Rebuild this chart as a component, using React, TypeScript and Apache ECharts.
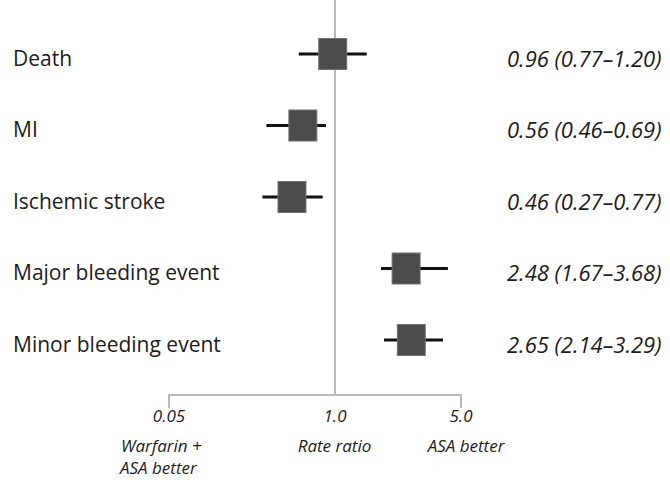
import React, { useEffect, useRef } from "react";
import * as echarts from "echarts";

const categories = ["Death", "MI", "Ischemic stroke", "Major bleeding event", "Minor bleeding event"];
const estimates = [0.96, 0.56, 0.46, 2.48, 2.65];
const lowerCI = [0.77, 0.46, 0.27, 1.67, 2.14];
const upperCI = [1.2, 0.69, 0.77, 3.68, 3.29];
// whisker ends as drawn in the (schematic) picture
const drawnLow = [0.52, 0.29, 0.27, 1.8, 1.87];
const drawnHigh = [1.5, 0.85, 0.8, 4.23, 3.97];
const axisTicks = [0.05, 1.0, 5.0];
const axisTickLabels = ["0.05", "1.0", "5.0"];
const captionLeft = ["Warfarin +", "ASA better"];
const captionMid = "Rate ratio";
const captionRight = "ASA better";

const FONT = '"Open Sans", sans-serif';
const TEXT = "#1c1c1c";
const GRAY = "#b9b9b9";

const ciText = estimates.map(
  (e, i) => `${e.toFixed(2)} (${lowerCI[i].toFixed(2)}–${upperCI[i].toFixed(2)})`
);

export default function App() {
  const ref = useRef<HTMLDivElement>(null);
  useEffect(() => {
    if (!ref.current) return;
    const chart = echarts.init(ref.current, null, { renderer: "svg" });
    const rowIdx = categories.map((_, i) => i);
    const yMin = -54 / 71.5;
    const yMax = 4 + (395 - 340) / 71.5;
    const panels = [
      [axisTicks[0], axisTicks[1]],
      [axisTicks[1], axisTicks[2]],
    ];
    const tickFmt = (v: number) => {
      const k = axisTicks.findIndex((t) => Math.abs(t - v) < 1e-6);
      return k >= 0 ? axisTickLabels[k] : "";
    };
    const series: any[] = [];
    panels.forEach(([pmin, pmax], p) => {
      const whiskers: number[][] = [];
      const squares: number[][] = [];
      rowIdx.forEach((i) => {
        const lo = Math.max(drawnLow[i], pmin);
        const hi = Math.min(drawnHigh[i], pmax);
        if (lo < hi) whiskers.push([lo, hi, i]);
        const e = estimates[i];
        if ((p === 0 && e < pmax) || (p === 1 && e >= pmin)) squares.push([e, i]);
      });
      series.push({
        type: "custom",
        xAxisIndex: p,
        yAxisIndex: p === 0 ? 0 : 1,
        data: whiskers,
        encode: { x: [0, 1], y: 2 },
        clip: false,
        z: 3,
        renderItem: (params: any, api: any) => {
          const a = api.coord([api.value(0), api.value(2)]);
          const b = api.coord([api.value(1), api.value(2)]);
          return {
            type: "line",
            shape: { x1: a[0], y1: a[1], x2: b[0], y2: b[1] },
            style: { stroke: "#111111", lineWidth: 3 },
          };
        },
      });
      series.push({
        type: "scatter",
        xAxisIndex: p,
        yAxisIndex: p === 0 ? 0 : 1,
        data: squares,
        symbol: "rect",
        symbolSize: [28, 31],
        clip: false,
        z: 4,
        itemStyle: { color: "#4b4b4b", borderColor: "#727272", borderWidth: 1, opacity: 1 },
      });
    });

    const xCommon = {
      type: "log",
      logBase: 10,
      axisLine: { show: true, onZero: false, lineStyle: { color: GRAY, width: 2 } },
      splitLine: { show: false },
    };
    const xLabel = {
      formatter: tickFmt,
      margin: 12,
      fontSize: 17,
      fontStyle: "italic",
      fontFamily: FONT,
      color: TEXT,
    };
    const capStyle = {
      fontSize: 17,
      fontStyle: "italic",
      fontFamily: FONT,
      fill: TEXT,
      verticalAlign: "middle",
    };

    chart.setOption({
      animation: false,
      backgroundColor: "#ffffff",
      grid: [
        { left: 169, top: 0, width: 166, height: 395, outerBoundsMode: "none" },
        { left: 335, top: 0, width: 126, height: 395, outerBoundsMode: "none" },
      ],
      xAxis: [
        {
          ...xCommon,
          gridIndex: 0,
          min: panels[0][0],
          max: panels[0][1],
          axisTick: { show: true, customValues: [axisTicks[0]], length: 13, lineStyle: { color: GRAY, width: 2 } },
          axisLabel: { ...xLabel, customValues: [axisTicks[0]] },
        },
        {
          ...xCommon,
          gridIndex: 1,
          min: panels[1][0],
          max: panels[1][1],
          axisTick: { show: true, customValues: [axisTicks[2]], length: 13, lineStyle: { color: GRAY, width: 2 } },
          axisLabel: { ...xLabel, customValues: [axisTicks[1], axisTicks[2]] },
        },
      ],
      yAxis: [
        {
          gridIndex: 0,
          type: "value",
          min: yMin,
          max: yMax,
          inverse: true,
          axisLine: { show: false },
          axisTick: { show: false },
          splitLine: { show: false },
          axisLabel: {
            customValues: rowIdx,
            formatter: (v: number) => `{t|${categories[Math.round(v)] ?? ""}}`,
            align: "left",
            margin: 156,
            rich: {
              t: { fontSize: 21, fontFamily: FONT, color: TEXT, padding: [7, 0, 0, 0] },
            },
          },
        },
        {
          gridIndex: 1,
          type: "value",
          min: yMin,
          max: yMax,
          inverse: true,
          axisLine: { show: true, onZero: false, lineStyle: { color: GRAY, width: 2 } },
          axisTick: { show: false },
          axisLabel: { show: false },
          splitLine: { show: false },
        },
        {
          gridIndex: 1,
          type: "value",
          position: "right",
          min: yMin,
          max: yMax,
          inverse: true,
          axisLine: { show: false },
          axisTick: { show: false },
          splitLine: { show: false },
          axisLabel: {
            customValues: rowIdx,
            formatter: (v: number) => `{t|${ciText[Math.round(v)] ?? ""}}`,
            align: "left",
            margin: 46,
            rich: {
              t: {
                fontSize: 22,
                fontStyle: "italic",
                fontFamily: FONT,
                color: TEXT,
                padding: [7, 0, 0, 0],
              },
            },
          },
        },
      ],
      graphic: [
        { type: "text", x: 121, y: 445, style: { ...capStyle, text: captionLeft[0], align: "left" } },
        { type: "text", x: 120, y: 467, style: { ...capStyle, text: captionLeft[1], align: "left" } },
        { type: "text", x: 334.5, y: 445, style: { ...capStyle, text: captionMid, align: "center" } },
        { type: "text", x: 466, y: 445, style: { ...capStyle, text: captionRight, align: "center" } },
      ],
      series,
    });
    return () => chart.dispose();
  }, []);
  return (
    <div
      ref={ref}
      style={{ position: "fixed", left: 0, top: 0, width: 670, height: 480, background: "#fff" }}
    />
  );
}
